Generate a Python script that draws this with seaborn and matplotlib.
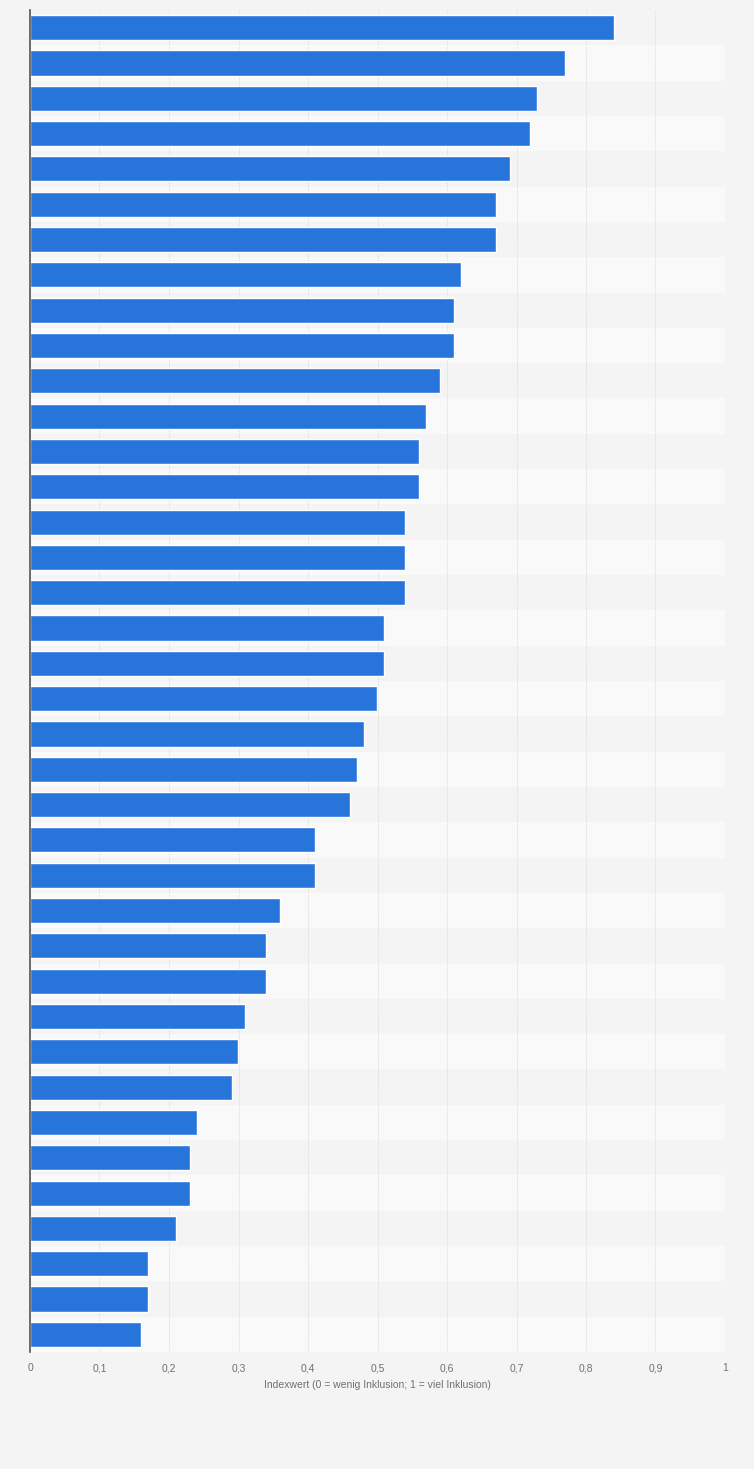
import matplotlib
matplotlib.use("Agg")
import matplotlib.pyplot as plt
import seaborn as sns
import pandas as pd
from matplotlib.ticker import FuncFormatter, MultipleLocator

# Index values (category labels are not shown in the reference)
values = [0.84, 0.77, 0.73, 0.72, 0.69, 0.67, 0.67, 0.62, 0.61, 0.61,
          0.59, 0.57, 0.56, 0.56, 0.54, 0.54, 0.54, 0.51, 0.51, 0.50,
          0.48, 0.47, 0.46, 0.41, 0.41, 0.36, 0.34, 0.34, 0.31, 0.30,
          0.29, 0.24, 0.23, 0.23, 0.21, 0.17, 0.17, 0.16]
categories = [f"Kategorie {i + 1}" for i in range(len(values))]
x_label = "Indexwert (0 = wenig Inklusion; 1 = viel Inklusion)"

df = pd.DataFrame({"kategorie": categories, "wert": values})

sns.set_theme(style="white")
plt.rcParams["font.family"] = ["Liberation Sans", "DejaVu Sans"]

fig = plt.figure(figsize=(7.54, 14.69), dpi=100)
fig.patch.set_facecolor("#f4f4f4")
ax = fig.add_axes([30 / 754, 1 - 1352 / 1469, 695 / 754, 1342 / 1469])
ax.set_facecolor("#f4f4f4")

# alternating row bands
for i in range(len(categories)):
    if i % 2 == 1:
        ax.axhspan(i - 0.5, i + 0.5, color="#f9f9f9", zorder=0, lw=0)

sns.barplot(data=df, x="wert", y="kategorie", orient="h", color="#2775db",
            saturation=1, width=0.71, ax=ax, zorder=3)

ax.set_xlim(0, 1)
ax.set_ylim(len(categories) - 0.5, -0.5)
ax.xaxis.set_major_locator(MultipleLocator(0.1))
ax.xaxis.set_major_formatter(FuncFormatter(
    lambda v, _: "0" if abs(v) < 1e-9 else ("1" if abs(v - 1) < 1e-9 else f"{v:.1f}".replace(".", ","))))
ax.grid(axis="x", color="#cfcfcf", linestyle=(0, (1, 1.5)), linewidth=0.6, zorder=1)
ax.set_axisbelow(True)

for s in ["top", "right", "bottom"]:
    ax.spines[s].set_visible(False)
ax.spines["left"].set_color("#555555")
ax.spines["left"].set_linewidth(1.2)
ax.spines["left"].set_zorder(5)

ax.set_yticks([])
ax.set_ylabel("")
ax.tick_params(axis="x", length=0, pad=8, labelsize=7.5, labelcolor="#707070")
ax.set_xlabel(x_label, fontsize=7.5, color="#707070", labelpad=5)

fig.savefig("out.png", dpi=100, facecolor=fig.get_facecolor())
